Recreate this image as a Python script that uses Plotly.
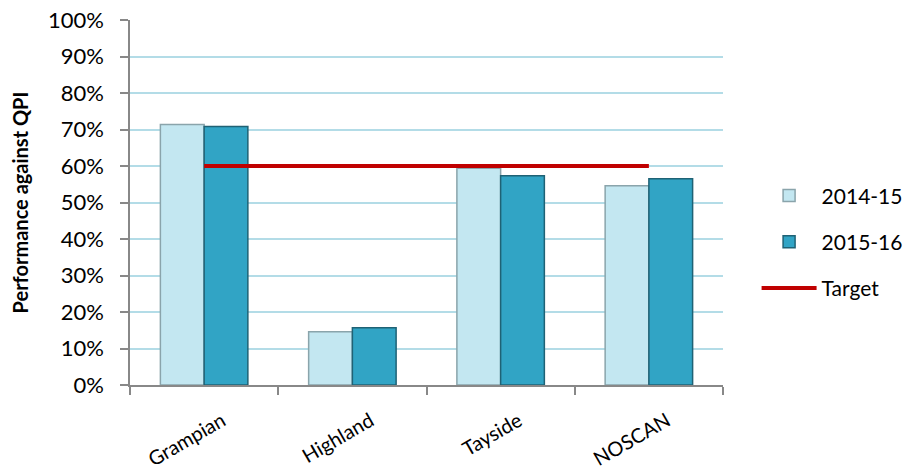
import plotly.graph_objects as go

categories = ["Grampian", "Highland", "Tayside", "NOSCAN"]
values_2014_15 = [0.714, 0.146, 0.594, 0.546]
values_2015_16 = [0.708, 0.157, 0.573, 0.565]
target = [0.60, 0.60, 0.60, 0.60]
y_ticks = [i / 10 for i in range(11)]
y_tick_labels = [f"{i * 10}%" for i in range(11)]

FONT = "Lato"

fig = go.Figure()
fig.add_trace(go.Bar(
    x=categories, y=values_2014_15, name="2014-15",
    marker=dict(color="#c3e7f1", line=dict(color="#8aa4ab", width=1.5)),
    legendgroup="a",
))
fig.add_trace(go.Bar(
    x=categories, y=values_2015_16, name="2015-16",
    marker=dict(color="#31a4c5", line=dict(color="#1f6275", width=1.5)),
    legendgroup="b",
))
fig.add_trace(go.Scatter(
    x=categories, y=target, name="Target", mode="lines",
    line=dict(color="#c00000", width=4),
    legendgroup="c",
))

fig.update_layout(
    width=911, height=474,
    margin=dict(l=130, r=188, t=20, b=89, autoexpand=False),
    paper_bgcolor="white", plot_bgcolor="white",
    barmode="group", bargap=0.41, bargroupgap=0,
    font=dict(family=FONT, size=21, color="#000000"),
    showlegend=True,
    legend=dict(
        xref="container", yref="container",
        x=0.8305, xanchor="left", y=0.49, yanchor="middle",
        font=dict(family=FONT, size=21, color="#000000"),
        tracegroupgap=16, bgcolor="rgba(0,0,0,0)",
        itemwidth=55,
    ),
    xaxis=dict(
        automargin=False,
        showline=True, linecolor="#888888", linewidth=1.5,
        ticks="outside", tickcolor="#888888", ticklen=8, tickwidth=1.5,
        tickson="boundaries", tickangle=-30,
        tickfont=dict(family=FONT, size=20),
        ticklabelstandoff=15, ticklabelshift=18,
        showgrid=False,
    ),
    yaxis=dict(
        automargin=False,
        range=[0, 1], tickvals=y_ticks, ticktext=y_tick_labels,
        showline=True, linecolor="#888888", linewidth=1.5,
        ticks="outside", tickcolor="#888888", ticklen=8, tickwidth=1.5,
        showgrid=True, gridcolor="#b3dce7", gridwidth=2,
        zeroline=False,
        tickfont=dict(family=FONT, size=22),
        ticklabelstandoff=12,
        title=dict(text="<b>Performance against QPI</b>", font=dict(family=FONT, size=20), standoff=14),
    ),
)

fig.write_html("out.html")
